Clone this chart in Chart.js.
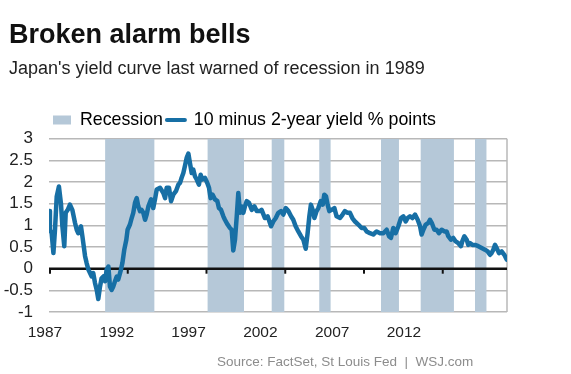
<!DOCTYPE html>
<html>
<head>
<meta charset="utf-8">
<script src="https://cdn.jsdelivr.net/npm/chart.js@4.4.1/dist/chart.umd.min.js"></script>
<style>
  body { margin: 0; background: #fff; }
  #wrap { position: relative; width: 571px; height: 374px; overflow: hidden; font-family: 'Liberation Sans', Arial, sans-serif; }
  canvas { position: absolute; left: 0; top: 0; }
  .txt { position: absolute; white-space: pre; line-height: 1; }
  #title { left: 9px; top: 21px; font-size: 27px; font-weight: bold; color: #111; }
  #subtitle { left: 9px; top: 59px; font-size: 18px; color: #222; }
  #source { left: 217px; top: 355px; font-size: 13.5px; color: #8c8c8c; }
</style>
</head>
<body>
<div id="wrap">
  <canvas id="chart" width="571" height="374"></canvas>
  <div class="txt" id="title">Broken alarm bells</div>
  <div class="txt" id="subtitle">Japan's yield curve last warned of recession in 1989</div>
  <div class="txt" id="source">Source: FactSet, St Louis Fed  |  WSJ.com</div>
</div>
<script>
// series names for the legend
const seriesNames = ['Recession', '10 minus 2-year yield % points'];

// 10y minus 2y spread (year as decimal)
const years = [
  1987.00, 1987.06, 1987.17, 1987.28, 1987.38, 1987.49, 1987.63, 1987.76, 1987.85, 1987.97,
  1988.06, 1988.19, 1988.33, 1988.48, 1988.65, 1988.76, 1988.86, 1989.03, 1989.12, 1989.29,
  1989.39, 1989.50, 1989.71, 1989.81, 1989.92, 1990.03, 1990.13, 1990.24, 1990.34, 1990.45,
  1990.56, 1990.66, 1990.77, 1990.87, 1990.98, 1991.08, 1991.19, 1991.30, 1991.40, 1991.57,
  1991.66, 1991.78, 1991.91, 1991.99, 1992.14, 1992.25, 1992.35, 1992.46, 1992.57, 1992.67,
  1992.78, 1992.88, 1992.99, 1993.10, 1993.20, 1993.31, 1993.48, 1993.62, 1993.73, 1993.84,
  1994.05, 1994.26, 1994.37, 1994.47, 1994.62, 1994.75, 1994.89, 1995.06, 1995.21, 1995.32,
  1995.42, 1995.53, 1995.63, 1995.74, 1995.85, 1995.95, 1996.06, 1996.16, 1996.27, 1996.38,
  1996.52, 1996.63, 1996.74, 1996.90, 1997.05, 1997.16, 1997.26, 1997.39, 1997.54, 1997.69,
  1997.79, 1997.92, 1998.07, 1998.17, 1998.34, 1998.49, 1998.60, 1998.70, 1998.81, 1998.92,
  1999.02, 1999.13, 1999.23, 1999.34, 1999.44, 1999.55, 1999.70, 1999.87, 2000.04, 2000.19,
  2000.40, 2000.50, 2000.71, 2000.88, 2001.10, 2001.24, 2001.40, 2001.56, 2001.73, 2001.88,
  2002.03, 2002.20, 2002.37, 2002.51, 2002.66, 2002.83, 2003.00, 2003.15, 2003.30, 2003.42,
  2003.53, 2003.63, 2003.74, 2003.85, 2003.99, 2004.10, 2004.25, 2004.38, 2004.48, 2004.59,
  2004.69, 2004.80, 2004.95, 2005.12, 2005.26, 2005.48, 2005.64, 2005.79, 2005.96, 2006.11,
  2006.26, 2006.43, 2006.64, 2006.85, 2007.02, 2007.17, 2007.38, 2007.59, 2007.80, 2008.02,
  2008.23, 2008.44, 2008.59, 2008.71, 2008.86, 2009.01, 2009.18, 2009.35, 2009.50, 2009.65,
  2009.77, 2009.92, 2010.07, 2010.24, 2010.41, 2010.56, 2010.66, 2010.77, 2010.92, 2011.09,
  2011.19, 2011.30, 2011.47, 2011.61, 2011.76, 2011.93, 2012.10, 2012.25, 2012.35, 2012.52,
  2012.67, 2012.82, 2012.99, 2013.16, 2013.24, 2013.37, 2013.52, 2013.62, 2013.73, 2013.88,
  2014.05, 2014.26, 2014.47, 2014.68, 2014.85, 2015.00, 2015.10, 2015.21, 2015.32, 2015.42,
  2015.57, 2015.74, 2015.91, 2016.06
];
const spread = [
  1.33, 0.90, 0.82, 0.36, 0.90, 1.67, 1.90, 1.50, 0.98, 0.52,
  1.29, 1.36, 1.48, 1.36, 1.06, 0.90, 0.82, 0.98, 0.75, 0.29,
  0.13, -0.02, -0.18, -0.10, -0.33, -0.49, -0.70, -0.41, -0.22, -0.18,
  -0.29, -0.02, 0.05, -0.41, -0.49, -0.41, -0.29, -0.18, -0.25, -0.02,
  0.13, 0.44, 0.67, 0.90, 1.02, 1.17, 1.29, 1.52, 1.63, 1.44,
  1.33, 1.36, 1.29, 1.13, 1.25, 1.44, 1.60, 1.40, 1.60, 1.83,
  1.87, 1.75, 1.63, 1.87, 1.87, 1.56, 1.71, 1.79, 1.94, 1.98,
  2.10, 2.21, 2.37, 2.56, 2.66, 2.44, 2.21, 2.29, 2.13, 2.06,
  1.94, 2.17, 2.06, 2.10, 1.98, 1.87, 1.63, 1.71, 1.60, 1.56,
  1.40, 1.36, 1.21, 1.13, 1.02, 0.94, 0.90, 0.42, 0.67, 1.21,
  1.75, 1.29, 1.44, 1.29, 1.44, 1.56, 1.52, 1.36, 1.44, 1.33,
  1.33, 1.36, 1.17, 1.21, 0.98, 1.09, 1.17, 1.29, 1.33, 1.25,
  1.40, 1.33, 1.21, 1.13, 0.98, 0.86, 0.75, 0.67, 0.46, 0.82,
  1.21, 1.48, 1.36, 1.17, 1.33, 1.40, 1.56, 1.48, 1.71, 1.67,
  1.48, 1.33, 1.36, 1.40, 1.21, 1.17, 1.25, 1.33, 1.29, 1.29,
  1.17, 1.09, 1.02, 0.94, 0.94, 0.86, 0.82, 0.79, 0.86, 0.82,
  0.82, 0.90, 0.75, 0.71, 0.94, 0.82, 0.98, 1.17, 1.21, 1.09,
  1.17, 1.21, 1.17, 1.25, 1.13, 0.98, 0.79, 0.90, 1.02, 1.06,
  1.13, 1.06, 0.90, 0.90, 0.82, 0.90, 0.86, 0.86, 0.75, 0.67,
  0.71, 0.63, 0.59, 0.52, 0.63, 0.75, 0.67, 0.55, 0.59, 0.55,
  0.55, 0.52, 0.48, 0.44, 0.40, 0.32, 0.36, 0.44, 0.55, 0.48,
  0.36, 0.40, 0.32, 0.21
];

// recession periods
const recessionStart = [1990.56, 1997.07, 2001.14, 2004.16, 2008.08, 2010.60, 2014.05];
const recessionEnd   = [1993.69, 1999.38, 2001.94, 2004.88, 2009.22, 2012.71, 2014.79];

// x axis: tick marks every 5 years, labels as printed
const xTickYears = [1987, 1992, 1997, 2002, 2007, 2012];
const xLabels = ['1987', '1992', '1997', '2002', '2007', '2012'];

const lineColor = '#176fa5';
const bandColor = '#b5c8d8';
const gridColor = '#b8b8b8';

Chart.defaults.font.family = "'Liberation Sans', Arial, sans-serif";
Chart.defaults.color = '#222';

// each recession becomes a box from the bottom of the scale to the top
const bandPoints = [];
recessionStart.forEach((s, i) => {
    const e = recessionEnd[i];
    bandPoints.push({x: s, y: -1}, {x: s, y: 3}, {x: e, y: 3}, {x: e, y: -1});
});

// zero line, year ticks and right border, drawn between the bands and the line
const axisMarks = {
    id: 'axisMarks',
    afterLayout(chart) {
        // legend row starts just right of the plot's left edge
        chart.legend.left = chart.chartArea.left;
    },
    beforeDatasetDraw(chart, args) {
        if (args.index !== 1) return;
        const {ctx, chartArea, scales} = chart;
        const y0 = scales.y.getPixelForValue(0);
        ctx.save();
        ctx.strokeStyle = gridColor;
        ctx.lineWidth = 1.5;
        ctx.beginPath();
        ctx.moveTo(chartArea.right, chartArea.top);
        ctx.lineTo(chartArea.right, chartArea.bottom);
        ctx.stroke();

        ctx.strokeStyle = '#111';
        ctx.lineWidth = 2.5;
        ctx.beginPath();
        ctx.moveTo(chartArea.left, y0);
        ctx.lineTo(chartArea.right, y0);
        ctx.stroke();

        ctx.lineWidth = 2;
        xTickYears.forEach(yr => {
            const x = scales.x.getPixelForValue(yr) + (yr === xTickYears[0] ? 1 : 0);
            ctx.beginPath();
            ctx.moveTo(x, y0);
            ctx.lineTo(x, y0 + 5);
            ctx.stroke();
        });
        ctx.restore();
    }
};

new Chart(document.getElementById('chart'), {
    type: 'line',
    data: {
        datasets: [
            {
                label: seriesNames[0],
                data: bandPoints,
                backgroundColor: bandColor,
                borderWidth: 0,
                pointRadius: 0,
                fill: 'start',
                order: 2
            },
            {
                label: seriesNames[1],
                data: years.map((x, i) => ({x: x, y: spread[i]})),
                borderColor: lineColor,
                borderWidth: 4.5,
                borderJoinStyle: 'round',
                borderCapStyle: 'round',
                pointRadius: 0,
                tension: 0,
                fill: false,
                order: 1
            }
        ]
    },
    options: {
        responsive: false,
        animation: false,
        layout: { padding: { left: 0, right: 64, top: 107, bottom: 0 } },
        plugins: {
            tooltip: { enabled: false },
            legend: {
                align: 'start',
                labels: {
                    usePointStyle: true,
                    pointStyleWidth: 18,
                    boxHeight: 9,
                    padding: 4,
                    font: { size: 17.8 },
                    color: '#222',
                    generateLabels: () => [
                        { text: seriesNames[0], fillStyle: bandColor, strokeStyle: bandColor, lineWidth: 0, pointStyle: 'rect', datasetIndex: 0, hidden: false },
                        { text: seriesNames[1], fillStyle: lineColor, strokeStyle: lineColor, lineWidth: 4, lineCap: 'round', pointStyle: 'line', datasetIndex: 1, hidden: false }
                    ]
                }
            }
        },
        scales: {
            x: { type: 'linear', min: 1987, max: 2016.08, display: false },
            xLabel: {
                type: 'linear',
                position: 'bottom',
                min: 0.056,
                max: 6.435,
                afterBuildTicks: s => { s.ticks = xLabels.map((l, i) => ({ value: i })); },
                afterFit: s => { s.height = 62; s.paddingLeft = 0; s.paddingRight = 0; },
                ticks: { callback: v => xLabels[v], padding: 11, font: { size: 15.5 }, color: '#222', maxRotation: 0, autoSkip: false },
                grid: { display: false, drawTicks: false },
                border: { display: false }
            },
            y: {
                min: -1,
                max: 3,
                afterFit: s => { s.width = 49; },
                ticks: { stepSize: 0.5, autoSkip: false, padding: 16, font: { size: 17 }, color: '#222', callback: v => String(v) },
                grid: {
                    color: c => c.tick.value === 0 ? 'rgba(0,0,0,0)' : gridColor,
                    lineWidth: 1.5,
                    drawTicks: false
                },
                border: { display: false }
            }
        }
    },
    plugins: [axisMarks]
});
</script>
</body>
</html>
